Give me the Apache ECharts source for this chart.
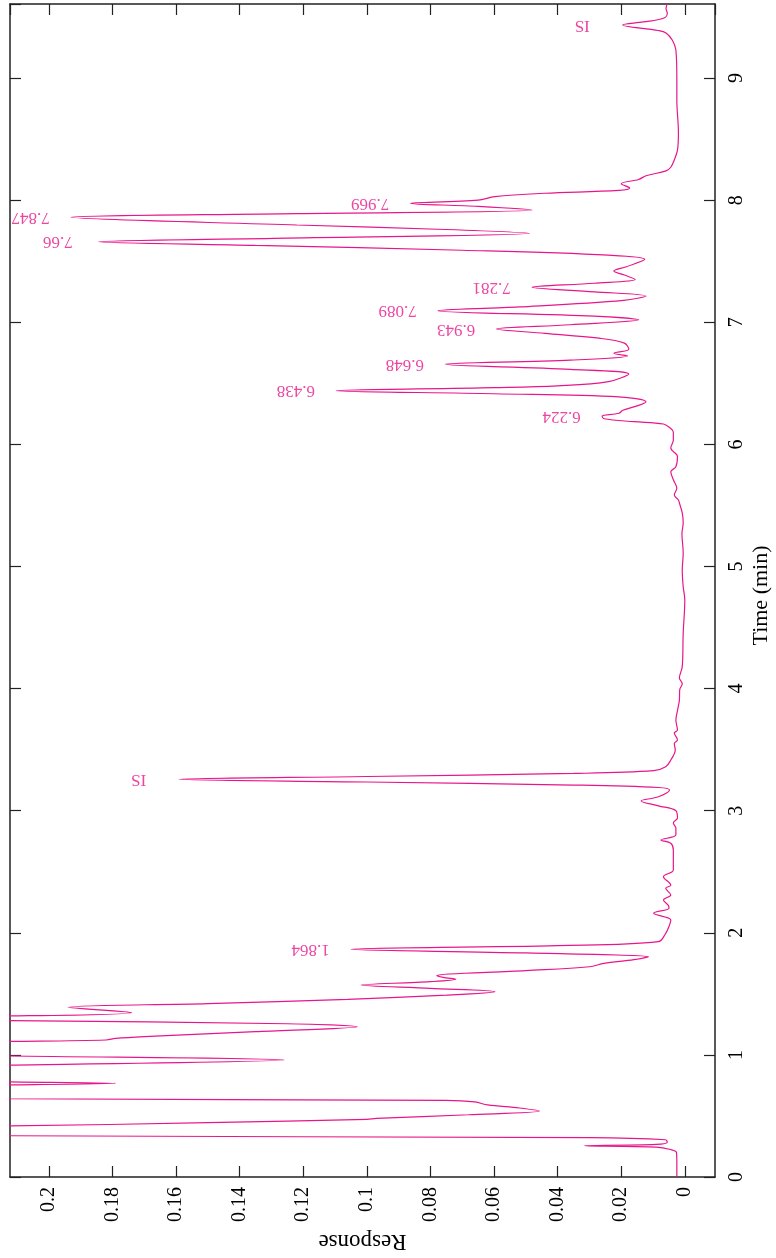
<!DOCTYPE html>
<html>
<head>
<meta charset="utf-8">
<script src="https://cdn.jsdelivr.net/npm/echarts@6/dist/echarts.min.js"></script>
<style>
html,body{margin:0;padding:0;background:#fff;}
#c{width:776px;height:1258px;}
</style>
</head>
<body>
<div id="c"></div>
<script>
// Retention time (min)
const times = [
  0.0, 0.1, 0.2, 0.225, 0.245, 0.256, 0.267, 0.285, 0.305, 0.322,
  0.338, 0.378, 0.418, 0.445, 0.472, 0.48, 0.51, 0.54, 0.565, 0.59,
  0.615, 0.628, 0.641, 0.70, 0.755, 0.767, 0.779, 0.85, 0.917, 0.958,
  0.991, 1.05, 1.11, 1.122, 1.135, 1.15, 1.19, 1.231, 1.255, 1.28,
  1.30, 1.319, 1.346, 1.39, 1.42, 1.455, 1.49, 1.518, 1.545, 1.572,
  1.60, 1.62, 1.635, 1.65, 1.69, 1.722, 1.75, 1.78, 1.804, 1.835,
  1.865, 1.895, 1.927, 1.996, 2.05, 2.105, 2.16, 2.2, 2.214, 2.269,
  2.31, 2.364, 2.39, 2.46, 2.514, 2.678, 2.733, 2.76, 2.8, 2.858,
  2.9, 2.94, 3.0, 3.04, 3.08, 3.114, 3.17, 3.19, 3.21, 3.235,
  3.257, 3.28, 3.305, 3.328, 3.36, 3.415, 3.497, 3.55, 3.58, 3.636,
  3.66, 3.74, 3.82, 3.906, 3.99, 4.04, 4.087, 4.18, 4.455, 4.726,
  4.835, 4.97, 5.11, 5.27, 5.356, 5.44, 5.52, 5.545, 5.586, 5.64,
  5.71, 5.776, 5.817, 5.9, 5.97, 6.036, 6.1, 6.13, 6.167, 6.186,
  6.21, 6.232, 6.255, 6.28, 6.32, 6.35, 6.39, 6.415, 6.44, 6.465,
  6.48, 6.514, 6.577, 6.615, 6.656, 6.69, 6.724, 6.746, 6.78, 6.83,
  6.87, 6.91, 6.945, 6.98, 7.02, 7.05, 7.095, 7.126, 7.18, 7.215,
  7.25, 7.287, 7.32, 7.35, 7.387, 7.42, 7.455, 7.516, 7.55, 7.59,
  7.63, 7.66, 7.69, 7.729, 7.76, 7.797, 7.86, 7.89, 7.92, 7.95,
  7.974, 8.0, 8.03, 8.057, 8.08, 8.1, 8.135, 8.17, 8.2, 8.24,
  8.27, 8.33, 8.41, 8.55, 8.82, 9.0, 9.23, 9.31, 9.37, 9.39,
  9.435, 9.46, 9.49, 9.53, 9.57, 9.61
];
// Detector response
const responses = [
  0.0025, 0.0025, 0.0026, 0.0045, 0.009, 0.0316, 0.009, 0.0055, 0.006, 0.03,
  0.212, 0.36, 0.212, 0.15, 0.100, 0.097, 0.068, 0.0457, 0.052, 0.062,
  0.066, 0.075, 0.212, 0.42, 0.212, 0.179, 0.212, 0.42, 0.212, 0.126,
  0.212, 0.38, 0.212, 0.182, 0.179, 0.170, 0.135, 0.103, 0.125, 0.212,
  0.30, 0.212, 0.174, 0.194, 0.15, 0.106, 0.075, 0.0597, 0.08, 0.1018,
  0.08, 0.072, 0.076, 0.078, 0.05, 0.030, 0.0254, 0.016, 0.0114, 0.05,
  0.1049, 0.04, 0.0083, 0.006, 0.005, 0.0044, 0.0098, 0.005, 0.005, 0.0067,
  0.0044, 0.006, 0.0044, 0.0067, 0.0036, 0.0036, 0.0044, 0.0075, 0.0028, 0.0028,
  0.0036, 0.0023, 0.0028, 0.0083, 0.0137, 0.0083, 0.0048, 0.0083, 0.035, 0.10,
  0.159, 0.10, 0.035, 0.0098, 0.006, 0.0044, 0.003, 0.0033, 0.0023, 0.0033,
  0.0023, 0.0028, 0.0023, 0.0017, 0.0016, 0.0008, 0.0017, 0.0008, 0.0005, 0.0,
  0.0005, 0.0008, 0.0005, 0.0009, 0.0005, 0.0008, 0.0017, 0.002, 0.0033, 0.0025,
  0.0036, 0.0044, 0.0028, 0.0023, 0.0044, 0.0036, 0.0036, 0.0044, 0.0067, 0.016,
  0.0254, 0.026, 0.0207, 0.0195, 0.0145, 0.0122, 0.0207, 0.06, 0.1096, 0.06,
  0.04, 0.024, 0.0176, 0.036, 0.0753, 0.036, 0.018, 0.0223, 0.0176, 0.019,
  0.027, 0.044, 0.0592, 0.036, 0.0145, 0.0285, 0.0776, 0.052, 0.0192, 0.0122,
  0.0285, 0.048, 0.0285, 0.0156, 0.019, 0.0223, 0.0184, 0.0126, 0.024, 0.07,
  0.135, 0.1844, 0.125, 0.0488, 0.0753, 0.122, 0.193, 0.122, 0.048, 0.065,
  0.0862, 0.065, 0.0597, 0.044, 0.0207, 0.0173, 0.02, 0.0145, 0.0122, 0.0059,
  0.0044, 0.0033, 0.0023, 0.002, 0.0025, 0.0025, 0.0028, 0.0039, 0.0059, 0.0083,
  0.0195, 0.013, 0.0067, 0.0055, 0.0059, 0.0055
];
// Annotated peaks
const peakLabels = ['1.864', 'IS', '6.224', '6.438', '6.648', '6.943', '7.089', '7.281', '7.66', '7.847', '7.969', 'IS'];
const peakTimes = [1.865, 3.257, 6.232, 6.44, 6.656, 6.945, 7.095, 7.287, 7.66, 7.86, 7.974, 9.435];
const peakResponses = [0.1049, 0.159, 0.026, 0.1096, 0.0753, 0.0592, 0.0776, 0.048, 0.1844, 0.193, 0.0862, 0.0195];

const COLOR = '#e8168a';
const FONT = 'Liberation Serif';

const lineData = times.map((t, i) => [responses[i], t]);
const labelData = peakTimes.map((t, i) => ({ value: [peakResponses[i], t], name: peakLabels[i] }));

const xMin = -0.0095, xMax = 0.2122, yMin = 0, yMax = 9.607;

const chart = echarts.init(document.getElementById('c'), null, { renderer: 'canvas' });
chart.setOption({
  backgroundColor: '#fff',
  animation: false,
  grid: { left: 10, right: 61, top: 4, bottom: 81, containLabel: false, outerBoundsMode: 'none' },
  xAxis: [
    {
      type: 'value', position: 'bottom', inverse: true, min: xMin, max: xMax, splitNumber: 10,
      name: 'Response', nameLocation: 'middle', nameRotate: 180, nameGap: 50,
      nameTextStyle: { fontFamily: FONT, fontSize: 23, color: '#000' },
      axisLine: { show: true, onZero: false, lineStyle: { color: '#222', width: 1.5 } },
      axisTick: { show: true, inside: true, length: 11, lineStyle: { color: '#222', width: 1.2 } },
      axisLabel: { show: true, rotate: 90, margin: 10, showMinLabel: false, showMaxLabel: false,
        fontFamily: FONT, fontSize: 20, color: '#000' },
      splitLine: { show: false }
    },
    {
      type: 'value', position: 'top', inverse: true, min: xMin, max: xMax, splitNumber: 10,
      axisLine: { show: true, onZero: false, lineStyle: { color: '#222', width: 1.5 } },
      axisTick: { show: true, inside: true, length: 11, lineStyle: { color: '#222', width: 1.2 } },
      axisLabel: { show: false },
      splitLine: { show: false }
    }
  ],
  yAxis: [
    {
      type: 'value', position: 'right', min: yMin, max: yMax, splitNumber: 10,
      name: 'Time (min)', nameLocation: 'middle', nameRotate: 90, nameGap: 35, nameMoveOverlap: false,
      nameTextStyle: { fontFamily: FONT, fontSize: 22, color: '#000', padding: [0, 10, 0, 0] },
      axisLine: { show: true, onZero: false, lineStyle: { color: '#222', width: 1.5 } },
      axisTick: { show: true, inside: true, length: 11, lineStyle: { color: '#222', width: 1.2 } },
      axisLabel: { show: true, rotate: 90, margin: 12, showMinLabel: true, showMaxLabel: false,
        fontFamily: FONT, fontSize: 20, color: '#000' },
      splitLine: { show: false }
    },
    {
      type: 'value', position: 'left', min: yMin, max: yMax, splitNumber: 10,
      axisLine: { show: true, onZero: false, lineStyle: { color: '#222', width: 1.5 } },
      axisTick: { show: true, inside: true, length: 11, lineStyle: { color: '#222', width: 1.2 } },
      axisLabel: { show: false },
      splitLine: { show: false }
    }
  ],
  series: [
    {
      type: 'line', xAxisIndex: 0, yAxisIndex: 0, data: lineData,
      showSymbol: false, symbol: 'none', smooth: 0.35, clip: true,
      lineStyle: { color: COLOR, width: 1.2 }
    },
    {
      type: 'scatter', xAxisIndex: 0, yAxisIndex: 0, data: labelData,
      symbolSize: 1, itemStyle: { color: 'rgba(0,0,0,0)' }, silent: true, clip: false,
      labelLayout: { hideOverlap: false },
      label: {
        show: true, position: 'left', distance: 40, rotate: 180,
        align: 'center', verticalAlign: 'middle',
        formatter: p => p.name, color: COLOR, fontFamily: FONT, fontSize: 17
      }
    }
  ]
});
</script>
</body>
</html>
